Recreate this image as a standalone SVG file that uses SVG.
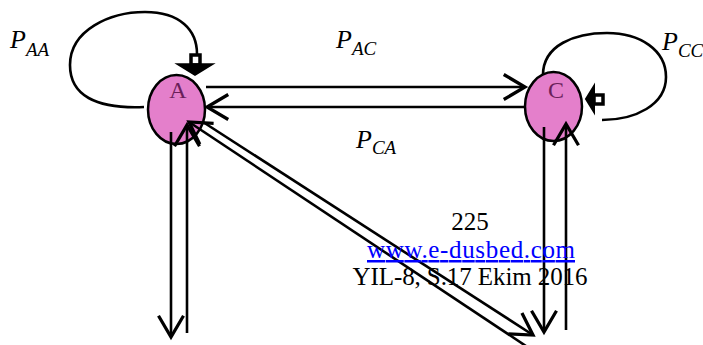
<svg xmlns="http://www.w3.org/2000/svg" width="703" height="345" viewBox="0 0 703 345">
<style>
.node{fill:#e47fcb;stroke:#000;stroke-width:2.5}
.nlabel{font-size:24px;fill:#6b1f5a;text-anchor:middle}
.edge{fill:none;stroke:#000;stroke-width:2.6}
.p{font-style:italic;fill:#000}
.big{font-size:26px}
.sub{font-size:19px}
.foot{font-size:25px;fill:#000;text-anchor:middle}
.link{fill:#0000ff;text-decoration:underline}
</style>
<defs>
<marker id="arr" markerUnits="userSpaceOnUse" markerWidth="30" markerHeight="30" viewBox="-20 -12 24 24" refX="0" refY="0" orient="auto">
<path d="M -17 -10 L 0 0 L -17 10" fill="none" stroke="#000" stroke-width="2.6"/>
</marker>
</defs>
<g id="nodeA">
<ellipse class="node" cx="176.5" cy="109.5" rx="28.5" ry="34.5"/>
<text class="nlabel" x="178" y="98" font-family="Liberation Serif, serif">A</text>
<rect x="191" y="55" width="9" height="10" fill="#fff" stroke="#000" stroke-width="3.5"/>
<polygon points="177,64 213,64 195,75" fill="#000" stroke="#000" stroke-width="1.5"/>
</g>
<g id="nodeC">
<ellipse class="node" cx="553.5" cy="106.5" rx="28.5" ry="34.5"/>
<text class="nlabel" x="556" y="98" font-family="Liberation Serif, serif">C</text>
<rect x="594" y="95" width="9" height="9" fill="#fff" stroke="#000" stroke-width="3.5"/>
<polygon points="594,86 594,112 586,99" fill="#000" stroke="#000" stroke-width="2"/>
</g>
<g id="connectors">
<path class="edge" d="M 144 107 C 95 109, 70 95, 70 65 C 70 30, 110 12, 145 12 C 180 12, 197 30, 197 54"/>
<path class="edge" d="M 543 75 C 543 45, 575 33, 607 33 C 640 33, 666 50, 666 77 C 666 105, 635 120, 602 120"/>
<line class="edge" x1="206" y1="87" x2="525" y2="87" marker-end="url(#arr)"/>
<line class="edge" x1="525" y1="107" x2="207" y2="107" marker-end="url(#arr)"/>
<line class="edge" x1="171" y1="132" x2="171" y2="337" marker-end="url(#arr)"/>
<line class="edge" x1="187" y1="333" x2="187" y2="125" marker-end="url(#arr)"/>
<line class="edge" x1="544" y1="127" x2="544" y2="332" marker-end="url(#arr)"/>
<line class="edge" x1="566" y1="330" x2="566" y2="124" marker-end="url(#arr)"/>
<line class="edge" x1="203" y1="122" x2="533" y2="335" marker-end="url(#arr)"/>
<line class="edge" x1="526" y1="346" x2="189" y2="122" marker-end="url(#arr)"/>
</g>
<g id="labels" font-family="Liberation Serif, serif">
<text class="p" x="10" y="48"><tspan class="big">P</tspan><tspan class="sub" dy="8">AA</tspan></text>
<text class="p" x="336" y="48"><tspan class="big">P</tspan><tspan class="sub" dy="7">AC</tspan></text>
<text class="p" x="356" y="148"><tspan class="big">P</tspan><tspan class="sub" dy="6">CA</tspan></text>
<text class="p" x="662" y="50"><tspan class="big">P</tspan><tspan class="sub" dy="7">CC</tspan></text>
<text class="foot" x="470" y="230" font-size="26">225</text>
<text class="foot link" x="471" y="258" textLength="208">www.e-dusbed.com</text>
<text class="foot" x="470" y="285" textLength="235">YIL-8, S.17 Ekim 2016</text>
</g>
</svg>
